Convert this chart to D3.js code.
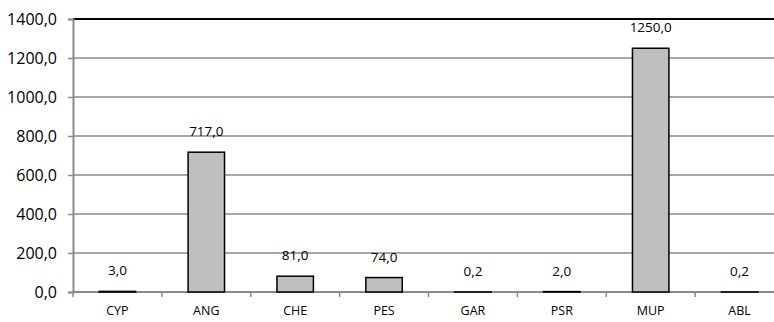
<!DOCTYPE html>
<html><head><meta charset="utf-8">
<script src="https://cdn.jsdelivr.net/npm/d3@7"></script>
<style>
html,body{margin:0;padding:0;background:#fff;overflow:hidden;}
svg{display:block;}
text{font-family:"Open Sans",sans-serif;fill:#000;}
</style></head><body>
<svg id="chart" width="774" height="322"></svg>
<script>
const categories = ["CYP","ANG","CHE","PES","GAR","PSR","MUP","ABL"];
const values = [3.0, 717.0, 81.0, 74.0, 0.2, 2.0, 1250.0, 0.2];
const valueLabels = ["3,0","717,0","81,0","74,0","0,2","2,0","1250,0","0,2"];
const yTicks = [0,200,400,600,800,1000,1200,1400];

(function(){
const svg = d3.select("#chart");
const W = 774;
const mLeft = 73, mRight = 784, mTop = 19, mBottom = 292;

const x = d3.scaleBand().domain(categories).range([mLeft, mRight]).paddingInner(0).paddingOuter(0);
const y = d3.scaleLinear().domain([0,1400]).range([mBottom, mTop]);
const fmt = v => d3.format(".1f")(v).replace(".", ",");

// gridlines
svg.append("g").selectAll("line").data(yTicks.filter(t => t>0 && t<1400)).join("line")
  .attr("x1", mLeft).attr("x2", W).attr("y1", d=>y(d)).attr("y2", d=>y(d))
  .attr("stroke", "#8a8a8a").attr("stroke-width", 1.5);

// top border
svg.append("line").attr("x1", mLeft).attr("x2", W).attr("y1", y(1400)).attr("y2", y(1400))
  .attr("stroke", "#000").attr("stroke-width", 2);

// y axis
const yAxis = d3.axisLeft(y).tickValues(yTicks).tickFormat(fmt).tickSize(5).tickPadding(11);
const gy = svg.append("g").attr("transform", `translate(${mLeft},0)`).call(yAxis);
gy.select(".domain").attr("stroke", "#8a8a8a").attr("stroke-width", 2);
gy.selectAll(".tick line").attr("stroke", "#8a8a8a").attr("stroke-width", 1.5);
gy.selectAll(".tick text").style("font-size", "16px").attr("fill", "#000").attr("dy", "0.35em");

// x axis
const xAxis = d3.axisBottom(x).tickSize(0).tickPadding(14);
const gx = svg.append("g").attr("transform", `translate(0,${mBottom})`).call(xAxis);
gx.select(".domain").remove();
gx.selectAll(".tick text").style("font-size", "12.5px").attr("fill", "#000");
gx.append("line").attr("x1", mLeft).attr("x2", W).attr("y1", 0).attr("y2", 0)
  .attr("stroke", "#8a8a8a").attr("stroke-width", 2);
gx.selectAll(".bnd").data(categories).join("line").attr("class","bnd")
  .attr("x1", d=>x(d)).attr("x2", d=>x(d)).attr("y1", 0).attr("y2", 5)
  .attr("stroke", "#8a8a8a").attr("stroke-width", 1.5);

// bars
const bw = x.bandwidth()*0.41;
svg.append("g").selectAll("rect").data(categories).join("rect")
  .attr("x", d => x(d) + x.bandwidth()/2 - bw/2)
  .attr("width", bw)
  .attr("y", (d,i) => y(values[i]))
  .attr("height", (d,i) => Math.max(0, mBottom - y(values[i])))
  .attr("fill", "#bfbfbf").attr("stroke", "#000").attr("stroke-width", 1.5);

// value labels
svg.append("g").selectAll("text").data(categories).join("text")
  .attr("x", d => x(d) + x.bandwidth()/2)
  .attr("y", (d,i) => y(values[i]) - 16)
  .attr("text-anchor", "middle")
  .style("font-size", "13.5px")
  .text((d,i) => valueLabels[i]);
})();
</script>
</body></html>
